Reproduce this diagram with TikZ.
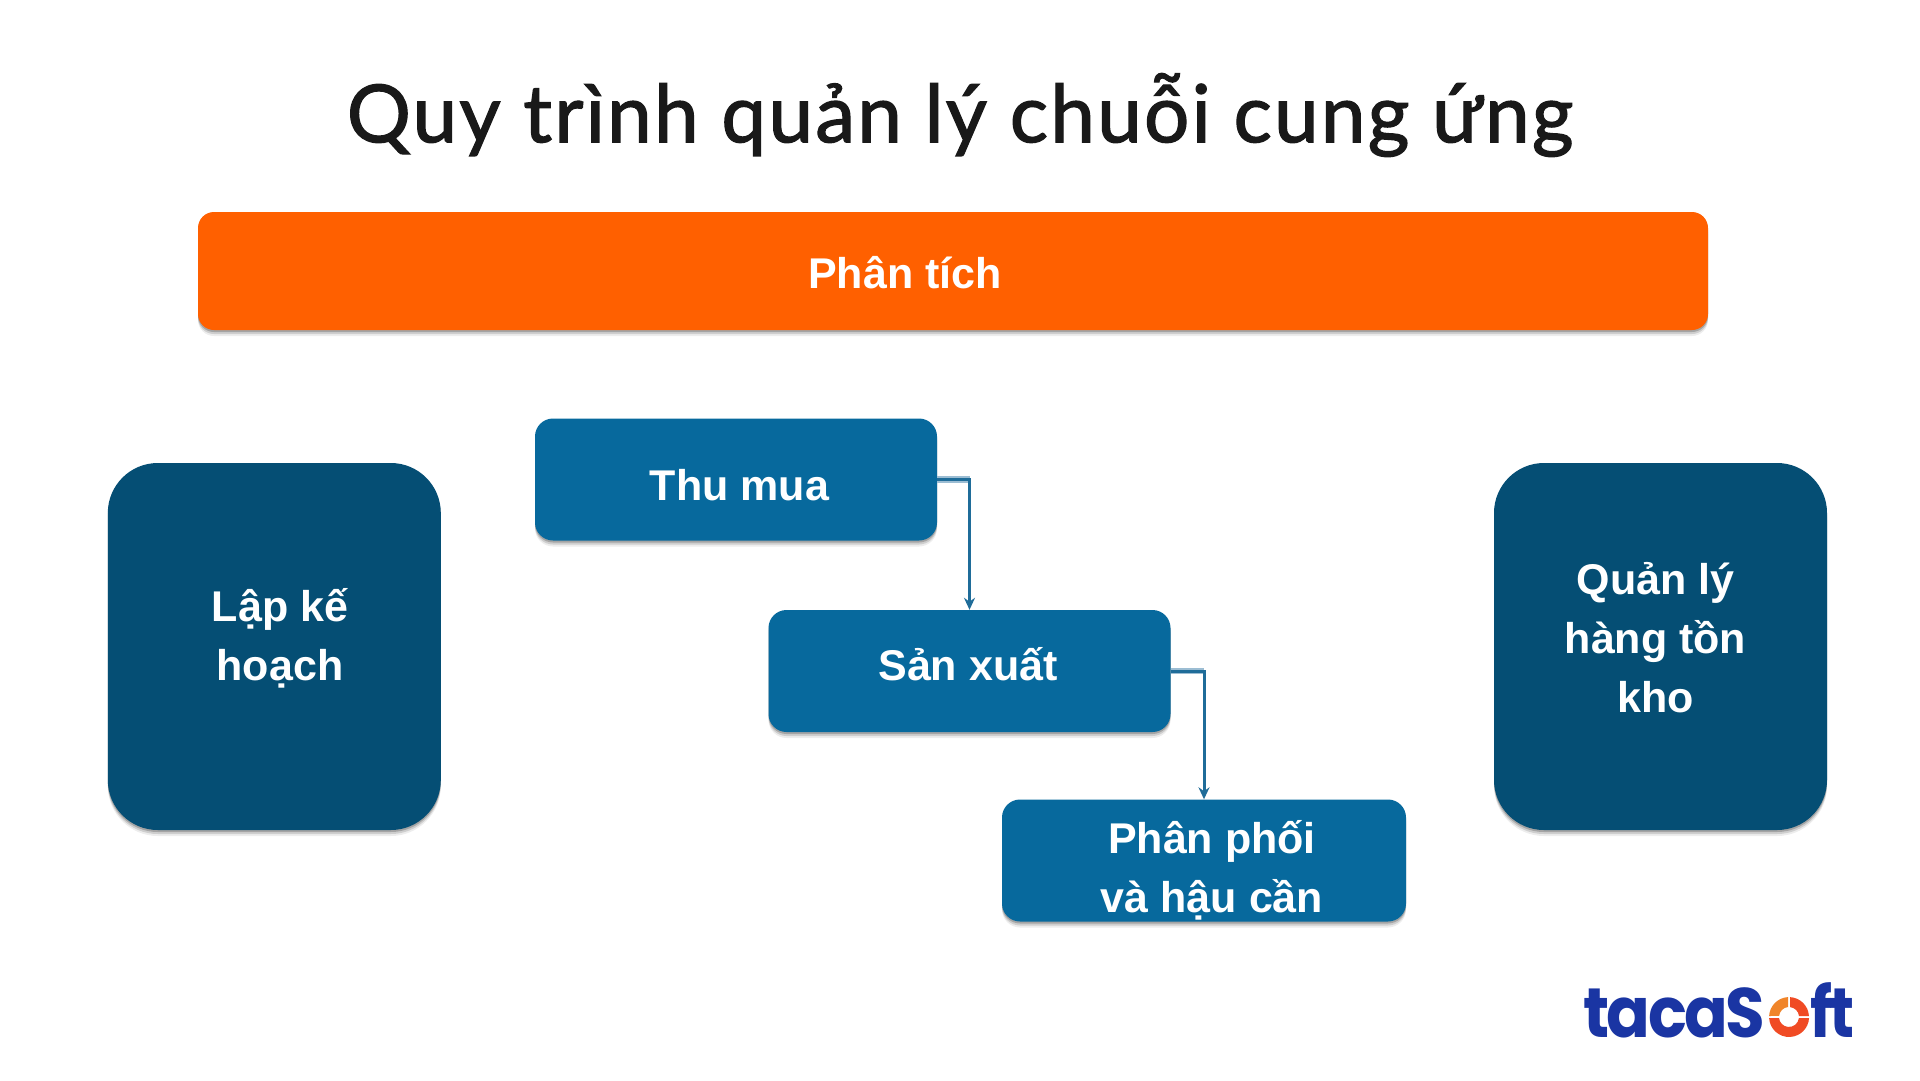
\documentclass[tikz,border=0pt]{standalone}
\usepackage{fontspec}
\usetikzlibrary{shadows,arrows.meta,positioning}
\setmainfont{Liberation Sans}
\newfontfamily\titlefont{Lato}[FakeBold=1.6,LetterSpace=2.8]
\newfontfamily\logofont{Poppins}[BoldFont=* Bold,LetterSpace=-4]
\definecolor{barorange}{HTML}{FF6000}
\definecolor{darkblue}{HTML}{054E74}
\definecolor{midblue}{HTML}{07699D}
\definecolor{linkblue}{HTML}{1F6C99}
\definecolor{linkhalo}{HTML}{9CBDD3}
\definecolor{logoblue}{HTML}{1A35A3}
\definecolor{logored}{HTML}{F04B24}
\definecolor{logoorange}{HTML}{F0852A}
\tikzset{
  softshadow/.style={drop shadow={shadow xshift=0pt,shadow yshift=-6pt,fill=black,opacity=.07},
                     drop shadow={shadow xshift=0pt,shadow yshift=-4pt,fill=black,opacity=.13},
                     drop shadow={shadow xshift=0pt,shadow yshift=-2pt,fill=black,opacity=.2}},
  barbox/.style={draw=none,fill=barorange,rounded corners=16pt,softshadow},
  bigbox/.style={draw=none,fill=darkblue,rounded corners=50pt,softshadow},
  stepbox/.style={draw=none,fill=midblue,rounded corners=18pt,softshadow},
  lbl/.style={text=white,font=\fontsize{43}{59}\selectfont\bfseries,align=center,inner sep=0pt},
  link/.style={draw=linkblue,line width=3pt,-{Stealth[length=12pt,width=11pt]}},
  linkhaloline/.style={draw=linkhalo,line width=6.5pt},
  logotxt/.style={text=logoblue,inner sep=0pt,anchor=base west,font=\fontsize{70}{70}\selectfont\logofont\bfseries}
}
\begin{document}
\begin{tikzpicture}[x=1pt,y=-1pt]
\useasboundingbox (0,0) rectangle (1920,1080);
\fill[white] (0,0) rectangle (1920,1080);
\node[inner sep=0pt,text=black!90,font=\fontsize{80}{80}\selectfont\titlefont] (title) at (960,115) {Quy trình quản lý chuỗi cung ứng};
\node[barbox,minimum width=1510pt,minimum height=118pt] (bar) at (953,271) {};
\node[lbl] (barl) at (905,272.5) {Phân tích};
\node[bigbox,minimum width=333pt,minimum height=367pt] (plan) at (274.3,646.5) {};
\node[lbl] (planl) at (280,638) {Lập kế\\hoạch};
\node[bigbox,minimum width=333pt,minimum height=367pt] (inv) at (1660.5,646.5) {};
\node[lbl] (invl) at (1655.5,638) {Quản lý\\hàng tồn\\kho};
\node[stepbox,minimum width=402pt,minimum height=122pt] (thu) at (736,479.5) {};
\node[lbl] (thul) at (739.5,485.5) {Thu mua};
\node[stepbox,minimum width=402pt,minimum height=122pt] (san) at (969.5,671) {};
\node[lbl] (sanl) at (968,664.5) {Sản xuất};
\node[stepbox,minimum width=404pt,minimum height=122pt] (phan) at (1204,860.5) {};
\node[lbl] (phanl) at (1212,870.5) {Phân phối\\và hậu cần};
\draw[linkhaloline] (thu.east) -- (thu.east -| san.north);
\draw[linkhaloline] (san.east) -- (san.east -| phan.north);
\draw[link] (thu.east) -| (san.north);
\draw[link] (san.east) -| (phan.north);
% logo
\coordinate (logoleft) at (1583,1037);
\coordinate (logoft) at (1810,1037);
\coordinate (o) at (1789,1017);
\node[logotxt] (logoa) at (logoleft) {\scalebox{.92}[1]{tacaS}};
\node[logotxt] (logob) at (logoft) {\scalebox{.88}[1]{ft}};
\begin{scope}[shift={(o)},x=1pt,y=1pt]
\fill[logoorange] (-19.9,1) arc[start angle=177,end angle=93,radius=20pt] -- (-1,10) arc[start angle=96,end angle=174,radius=10pt] -- cycle;
\fill[logored] (1,19.9) arc[start angle=87,end angle=3,radius=20pt] -- (10,1) arc[start angle=6,end angle=84,radius=10pt] -- cycle;
\fill[logored] (-19.9,-1) arc[start angle=183,end angle=357,radius=20pt] -- (9.9,-1) arc[start angle=354,end angle=186,radius=10pt] -- cycle;
\end{scope}
\end{tikzpicture}
\end{document}
